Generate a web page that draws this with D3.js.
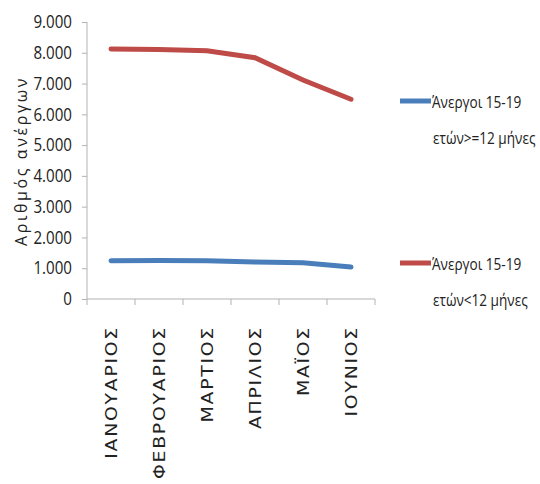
<!DOCTYPE html>
<html><head><meta charset="utf-8">
<script src="https://cdn.jsdelivr.net/npm/d3@7/dist/d3.min.js"></script>
<style>body{margin:0;background:#fff;overflow:hidden}</style>
</head><body>
<svg id="c" width="540" height="484"></svg>
<script>
const months = ["ΙΑΝΟΥΑΡΙΟΣ","ΦΕΒΡΟΥΑΡΙΟΣ","ΜΑΡΤΙΟΣ","ΑΠΡΙΛΙΟΣ","ΜΑΪΟΣ","ΙΟΥΝΙΟΣ"];
const longTerm = [1245, 1250, 1245, 1200, 1180, 1040];
const shortTerm = [8120, 8110, 8065, 7840, 7115, 6490];
const seriesNames = [["Άνεργοι 15-19","ετών>=12 μήνες"],["Άνεργοι 15-19","ετών<12 μήνες"]];
const seriesColors = ["#4a7ebb","#be4b48"];
const yTicks = [0,1000,2000,3000,4000,5000,6000,7000,8000,9000];
const yTitle = "Αριθμός ανέργων";

const numFont = "'Open Sans',sans-serif";
function condense(sel, k){
  sel.each(function(){
    const w = this.getComputedTextLength();
    d3.select(this).attr("textLength", w*k).attr("lengthAdjust","spacingAndGlyphs");
  });
}
const svg = d3.select("#c");
const x = d3.scaleBand().domain(months).range([87,375]);
const y = d3.scaleLinear().domain([0,9000]).range([299,22]);
const fmt = v => v===0 ? "0" : d3.format(",")(v).replace(/,/g,".");

// y axis
const ya = svg.append("g").attr("transform","translate(87,0)")
  .call(d3.axisLeft(y).tickValues(yTicks).tickFormat(fmt).tickSize(5).tickPadding(10));
ya.select(".domain").attr("stroke","#b3b3b3").attr("d","M0,22V299");
ya.selectAll(".tick line").attr("stroke","#b3b3b3");
ya.selectAll("text").attr("font-family",numFont).attr("font-size",18).attr("fill","#222").call(condense, 0.84);

// x axis
const xa = svg.append("g").attr("transform","translate(0,299)")
  .call(d3.axisBottom(x).tickSize(0).tickFormat(""));
xa.select(".domain").attr("stroke","#b3b3b3").attr("d","M87,0H375");
const edges = months.map(m=>x(m)).concat([375]);
xa.selectAll(".edge").data(edges).enter().append("line")
  .attr("x1",d=>d).attr("x2",d=>d).attr("y1",0).attr("y2",6).attr("stroke","#b3b3b3");
xa.selectAll(".lab").data(months).enter().append("text")
  .attr("transform",d=>`translate(${x(d)+x.bandwidth()/2+6},27) rotate(-90) scale(1.22,1)`)
  .attr("text-anchor","end")
  .attr("font-family","'DejaVu Sans',sans-serif").attr("font-size",15.5).attr("fill","#222")
  .attr("letter-spacing",1.4)
  .text(d=>d);

// y title
svg.append("text").attr("transform","translate(27,161) rotate(-90)")
  .attr("text-anchor","middle").attr("font-family","'Open Sans',sans-serif")
  .attr("font-size",16).attr("fill","#222").attr("letter-spacing",2.6).text(yTitle);

// lines
const line = d3.line().x((d,i)=>x(months[i])+x.bandwidth()/2).y(d=>y(d));
[longTerm, shortTerm].forEach((s,i)=>{
  svg.append("path").datum(s).attr("d",line).attr("fill","none")
    .attr("stroke",seriesColors[i]).attr("stroke-width",5).attr("stroke-linecap","round");
});

// legend
const legY = [101, 263];
seriesNames.forEach((n,i)=>{
  const g = svg.append("g").attr("transform",`translate(400,${legY[i]})`);
  g.append("line").attr("x1",0).attr("x2",31).attr("y1",0).attr("y2",0)
    .attr("stroke",seriesColors[i]).attr("stroke-width",5);
  g.append("text").attr("transform","translate(32,7) scale(0.8,1)").attr("font-family",numFont).attr("font-size",17)
    .attr("fill","#222").text(n[0]);
  g.append("text").attr("transform","translate(33,43) scale(0.8,1)").attr("font-family",numFont).attr("font-size",17)
    .attr("fill","#222").text(n[1]);
});
</script>
</body></html>
